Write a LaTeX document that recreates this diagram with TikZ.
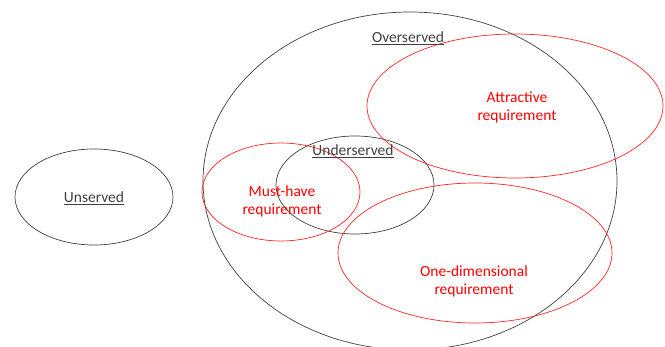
\documentclass[tikz,border=0pt]{standalone}
\usepackage{fontspec}
\setmainfont{Carlito}
\begin{document}
\begin{tikzpicture}[x=1pt,y=-1pt,
	greyring/.style={draw=black!75,line width=.7pt},
	redring/.style={draw=red!85!white,line width=.7pt},
	greylabel/.style={text=black!75,font=\fontsize{15.5}{18}\selectfont,align=center},
	redlabel/.style={text=red,font=\fontsize{15.5}{18}\selectfont,align=center}]
	\useasboundingbox (0,0) rectangle (665,347);
	\node [coordinate] (UN) at (94,197) {};
	\node [coordinate] (OV) at (410,181) {};
	\node [coordinate] (AT) at (515,106) {};
	\node [coordinate] (UD) at (355,185) {};
	\node [coordinate] (MH) at (281,192) {};
	\node [coordinate] (OD) at (475,253) {};
	\draw [greyring] (UN) ellipse (79 and 48);
	\draw [greyring] (OV) ellipse (207 and 169);
	\draw [greyring] (UD) ellipse (79 and 49);
	\draw [redring] (AT) ellipse (148 and 72);
	\draw [redring] (MH) ellipse (79 and 49);
	\draw [redring] (OD) ellipse (137 and 70);
	\node [greylabel] (unlab) at (94,198) {\underline{Unserved}};
	\node [greylabel] (ovlab) at (408,38) {\underline{Overserved}};
	\node [greylabel] (udlab) at (353,151) {\underline{Underserved}};
	\node [redlabel] (atlab) at (517,107) {Attractive\\requirement};
	\node [redlabel] (mhlab) at (282,201) {Must-have\\requirement};
	\node [redlabel] (odlab) at (474,281) {One-dimensional\\requirement};
\end{tikzpicture}
\end{document}
